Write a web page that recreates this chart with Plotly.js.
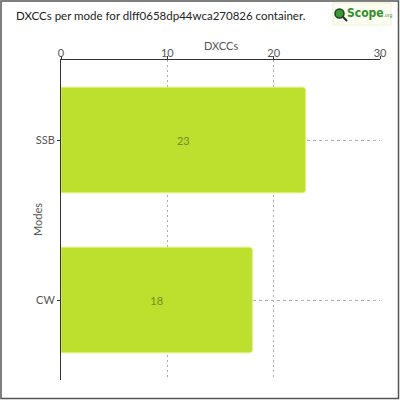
<!DOCTYPE html>
<html>
<head>
<meta charset="utf-8">
<script src="https://cdn.plot.ly/plotly-3.0.1.min.js"></script>
<style>
  body { margin: 0; background: #fff; }
  #plot { width: 400px; height: 400px; }
</style>
</head>
<body>
<div id="plot"></div>
<script>
// modes and how many DXCCs each one worked
let modes = ['SSB', 'CW'];
let dxccs = [23, 18];
let xTicks = [0, 10, 20, 30];

let font = 'Lato, "Open Sans", sans-serif';

let data = [{
    type: 'bar',
    orientation: 'h',
    y: modes,
    x: dxccs,
    text: dxccs.map(String),
    textposition: 'inside',
    insidetextanchor: 'middle',
    textfont: {family: font, size: 11, color: '#6f8f1f'},
    marker: {
        color: '#bde02f',
        line: {color: '#def27a', width: 1},
        cornerradius: 3
    },
    hoverinfo: 'none'
}];

let layout = {
    width: 400,
    height: 400,
    margin: {l: 61, r: 20, t: 60, b: 20, pad: 0},
    paper_bgcolor: '#fff',
    plot_bgcolor: '#fff',
    showlegend: false,
    bargap: 0.34,
    font: {family: font, color: '#555', size: 11},
    title: {
        text: 'DXCCs per mode for dlff0658dp44wca270826 container.',
        font: {family: font, size: 11.5, color: '#222'},
        x: 16 / 400,
        xanchor: 'left',
        y: 1 - 16 / 400,
        yanchor: 'middle'
    },
    xaxis: {
        side: 'top',
        range: [0, 30],
        tickvals: xTicks,
        ticks: 'outside',
        ticklen: 3,
        tickcolor: '#333',
        ticklabelstandoff: -5,
        showline: true,
        linecolor: '#333',
        linewidth: 1,
        showgrid: true,
        gridcolor: '#aaa',
        griddash: '2px,3px',
        zeroline: false,
        tickfont: {size: 11, color: '#555'}
    },
    yaxis: {
        autorange: 'reversed',
        ticks: 'outside',
        ticklen: 3,
        tickcolor: '#333',
        showline: true,
        linecolor: '#333',
        linewidth: 1,
        showgrid: true,
        gridcolor: '#aaa',
        griddash: '3px,3px',
        zeroline: false,
        tickfont: {size: 11, color: '#555'}
    },
    shapes: [{
        // outer frame round the whole picture
        type: 'rect',
        xref: 'paper', yref: 'paper',
        x0: (1 - 61) / 319, x1: (398.5 - 61) / 319,
        y0: (380 - 398.5) / 320, y1: (380 - 1) / 320,
        line: {color: '#555', width: 1.5},
        fillcolor: 'rgba(0,0,0,0)'
    }, {
        // logo box
        type: 'rect',
        xref: 'paper', yref: 'paper',
        x0: (333 - 61) / 319, x1: (391 - 61) / 319,
        y0: (380 - 25) / 320, y1: (380 - 3) / 320,
        line: {color: '#eef2d0', width: 1},
        fillcolor: '#fbfdf0'
    }, {
        // magnifier lens
        type: 'circle',
        xref: 'paper', yref: 'paper',
        x0: (335 - 61) / 319, x1: (344 - 61) / 319,
        y0: (380 - 18) / 320, y1: (380 - 9) / 320,
        line: {color: '#1f3f1f', width: 1.5},
        fillcolor: '#3a9a3a'
    }, {
        type: 'line',
        xref: 'paper', yref: 'paper',
        x0: (343 - 61) / 319, x1: (347 - 61) / 319,
        y0: (380 - 17) / 320, y1: (380 - 21) / 320,
        line: {color: '#1f2f1f', width: 2}
    }],
    annotations: [{
        // x axis title, sits just above the tick labels
        xref: 'paper', yref: 'paper',
        x: 0.5, y: (380 - 45) / 320,
        xanchor: 'center', yanchor: 'middle',
        showarrow: false,
        text: 'DXCCs',
        font: {family: font, size: 11, color: '#555'}
    }, {
        // y axis title, close to the category labels
        xref: 'paper', yref: 'paper',
        x: (37 - 61) / 319, y: (380 - 220) / 320,
        xanchor: 'center', yanchor: 'middle',
        textangle: -90,
        showarrow: false,
        text: 'Modes',
        font: {family: font, size: 11, color: '#555'}
    }, {
        xref: 'paper', yref: 'paper',
        x: (345 - 61) / 319, y: (380 - 13) / 320,
        xanchor: 'left', yanchor: 'middle',
        showarrow: false,
        text: '<b>Scope</b><span style="font-size:5px">.org</span>',
        font: {family: '"Liberation Sans Narrow", "DejaVu Sans Condensed", sans-serif', size: 12, color: '#2f8f2f'}
    }]
};

Plotly.newPlot('plot', data, layout, {staticPlot: true, displayModeBar: false});
</script>
</body>
</html>
